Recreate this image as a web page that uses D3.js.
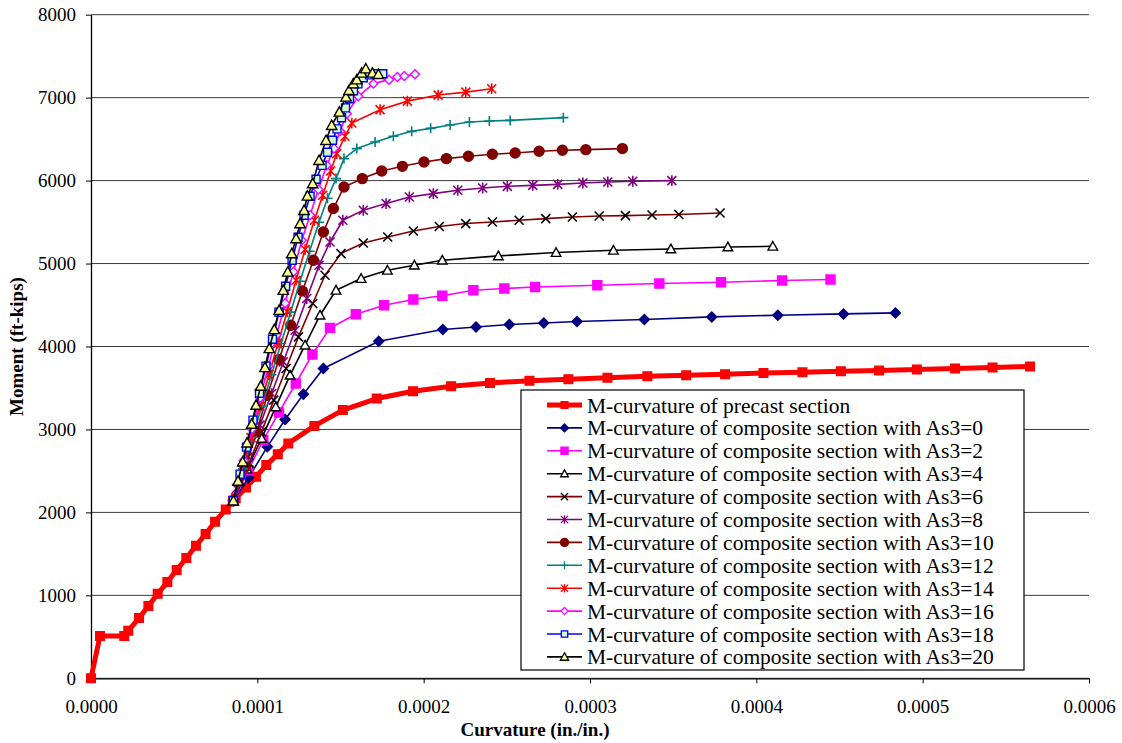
<!DOCTYPE html>
<html>
<head>
<meta charset="utf-8">
<script src="https://cdn.jsdelivr.net/npm/d3@7"></script>
<style>
  body { margin: 0; background: #fff; }
  svg text { font-family: "Liberation Serif", "Times New Roman", serif; }
</style>
</head>
<body>
<div id="chart"></div>
<script>
// [curvature (in./in.), moment (ft-kips)]
const precast = [[0,0],[0.0000054,510],[0.0000200,510],[0.0000224,573],[0.0000289,727],[0.0000345,871],
  [0.0000401,1019],[0.0000459,1160],[0.0000515,1305],[0.0000573,1449],[0.0000631,1599],[0.0000689,1739],
  [0.0000746,1887],[0.0000810,2036],[0.0000870,2170],[0.0000932,2300],[0.0000992,2429],[0.0001054,2570],
  [0.0001123,2702],[0.0001186,2831],[0.0001343,3043],[0.0001514,3233],[0.0001718,3373],[0.0001936,3461],
  [0.0002165,3522],[0.0002399,3561],[0.0002636,3586],[0.0002870,3606],[0.0003105,3622],[0.0003345,3642],
  [0.0003578,3654],[0.0003812,3666],[0.0004043,3682],[0.0004277,3690],[0.0004508,3702],[0.0004738,3711],
  [0.0004965,3723],[0.0005195,3735],[0.0005420,3747],[0.0005646,3759]];

const as3_0 = [[0.0000856,2140],[0.0000946,2414],[0.0001060,2790],[0.0001167,3120],[0.0001277,3425],
  [0.0001397,3735],[0.0001730,4064],[0.0002115,4205],[0.0002315,4236],[0.0002515,4265],[0.0002722,4284],
  [0.0002922,4301],[0.0003327,4325],[0.0003732,4357],[0.0004129,4377],[0.0004524,4393],[0.0004836,4405]];

const as3_2 = [[0.0000856,2140],[0.0000946,2510],[0.0001036,2871],[0.0001130,3205],[0.0001231,3554],
  [0.0001331,3904],[0.0001437,4224],[0.0001592,4389],[0.0001762,4498],[0.0001938,4566],[0.0002112,4612],
  [0.0002299,4678],[0.0002485,4699],[0.0002670,4718],[0.0003044,4739],[0.0003417,4759],[0.0003788,4775],
  [0.0004155,4795],[0.0004446,4807]];

const as3_4 = [[0.0000856,2140],[0.0000938,2522],[0.0001026,2892],[0.0001111,3272],[0.0001197,3654],
  [0.0001287,4016],[0.0001377,4377],[0.0001473,4678],[0.0001624,4819],[0.0001782,4919],[0.0001944,4980],
  [0.0002112,5040],[0.0002449,5092],[0.0002796,5133],[0.0003141,5160],[0.0003486,5176],[0.0003829,5200],
  [0.0004099,5208]];

const as3_6 = [[0.0000856,2140],[0.0000950,2594],[0.0001025,2971],[0.0001099,3353],[0.0001173,3735],
  [0.0001247,4116],[0.0001333,4518],[0.0001407,4859],[0.0001503,5120],[0.0001637,5248],[0.0001784,5320],
  [0.0001938,5393],[0.0002094,5446],[0.0002253,5482],[0.0002413,5501],[0.0002574,5522],[0.0002734,5542],
  [0.0002894,5561],[0.0003055,5573],[0.0003213,5578],[0.0003373,5586],[0.0003534,5592],[0.0003782,5610]];

const as3_8 = [[0.0000856,2140],[0.0000875,2288],[0.0000945,2670],[0.0001016,3052],[0.0001086,3433],
  [0.0001156,3814],[0.0001227,4196],[0.0001297,4578],[0.0001371,4980],[0.0001437,5260],[0.0001514,5522],
  [0.0001637,5642],[0.0001774,5723],[0.0001914,5802],[0.0002058,5843],[0.0002205,5883],[0.0002355,5911],
  [0.0002503,5931],[0.0002656,5943],[0.0002806,5955],[0.0002957,5971],[0.0003107,5983],[0.0003257,5992],
  [0.0003492,6000]];

const as3_10 = [[0.0000856,2140],[0.0000929,2552],[0.0000996,2971],[0.0001060,3413],[0.0001130,3843],
  [0.0001201,4257],[0.0001271,4670],[0.0001337,5040],[0.0001397,5381],[0.0001457,5663],[0.0001521,5923],
  [0.0001631,6024],[0.0001748,6116],[0.0001872,6172],[0.0002002,6224],[0.0002137,6265],[0.0002269,6293],
  [0.0002413,6317],[0.0002550,6333],[0.0002694,6353],[0.0002834,6365],[0.0002975,6373],[0.0003195,6386]];

const as3_12 = [[0.0000856,2140],[0.0000914,2525],[0.0000971,2904],[0.0001028,3281],[0.0001085,3659],
  [0.0001143,4037],[0.0001200,4414],[0.0001257,4787],[0.0001314,5148],[0.0001371,5498],[0.0001422,5787],
  [0.0001473,6024],[0.0001521,6265],[0.0001598,6386],[0.0001708,6465],[0.0001818,6534],[0.0001928,6594],
  [0.0002042,6630],[0.0002159,6670],[0.0002275,6706],[0.0002395,6718],[0.0002520,6726],[0.0002840,6759]];

const as3_14 = [[0.0000856,2140],[0.0000908,2522],[0.0000962,2901],[0.0001016,3281],[0.0001070,3660],
  [0.0001124,4040],[0.0001179,4419],[0.0001233,4799],[0.0001287,5169],[0.0001343,5522],[0.0001393,5823],
  [0.0001441,6116],[0.0001477,6325],[0.0001527,6534],[0.0001568,6694],[0.0001738,6855],[0.0001902,6958],
  [0.0002087,7031],[0.0002253,7067],[0.0002409,7108]];

const as3_16 = [[0.0000856,2140],[0.0000918,2624],[0.0000968,3004],[0.0001017,3383],[0.0001067,3763],
  [0.0001117,4142],[0.0001167,4522],[0.0001217,4901],[0.0001267,5281],[0.0001317,5582],[0.0001367,5892],
  [0.0001417,6184],[0.0001461,6386],[0.0001497,6594],[0.0001538,6807],[0.0001607,7016],[0.0001698,7169],
  [0.0001792,7217],[0.0001842,7248],[0.0001884,7260],[0.0001948,7281]];

const as3_18 = [[0.0000856,2140],[0.0000896,2462],[0.0000935,2787],[0.0000974,3112],[0.0001013,3437],
  [0.0001052,3763],[0.0001091,4088],[0.0001130,4413],[0.0001170,4726],[0.0001209,5040],[0.0001245,5317],
  [0.0001281,5582],[0.0001317,5811],[0.0001353,6016],[0.0001389,6184],[0.0001422,6341],[0.0001452,6486],
  [0.0001479,6624],[0.0001506,6757],[0.0001530,6877],[0.0001554,6986],[0.0001578,7082],[0.0001605,7166],
  [0.0001637,7239],[0.0001675,7275],[0.0001714,7289],[0.0001754,7289]];

const as3_20 = [[0.0000856,2140],[0.0000884,2377],[0.0000912,2610],[0.0000938,2839],[0.0000966,3064],
  [0.0000992,3293],[0.0001020,3522],[0.0001046,3747],[0.0001072,3976],[0.0001102,4205],[0.0001131,4437],
  [0.0001156,4678],[0.0001183,4899],[0.0001207,5120],[0.0001233,5301],[0.0001257,5482],[0.0001281,5642],
  [0.0001301,5815],[0.0001333,5964],[0.0001371,6245],[0.0001413,6486],[0.0001447,6666],[0.0001493,6827],
  [0.0001533,7008],[0.0001551,7088],[0.0001577,7168],[0.0001598,7216],[0.0001627,7297],[0.0001652,7349],
  [0.0001692,7297],[0.0001728,7281]];

const seriesNames = [
  "M-curvature of precast section",
  "M-curvature of composite section with As3=0",
  "M-curvature of composite section with As3=2",
  "M-curvature of composite section with As3=4",
  "M-curvature of composite section with As3=6",
  "M-curvature of composite section with As3=8",
  "M-curvature of composite section with As3=10",
  "M-curvature of composite section with As3=12",
  "M-curvature of composite section with As3=14",
  "M-curvature of composite section with As3=16",
  "M-curvature of composite section with As3=18",
  "M-curvature of composite section with As3=20"
];
const xTicks = [0, 0.0001, 0.0002, 0.0003, 0.0004, 0.0005, 0.0006];
const yTicks = [0, 1000, 2000, 3000, 4000, 5000, 6000, 7000, 8000];

// marker shapes (path generators at given radius)
const shapes = {
  square: r => `M${-r},${-r}H${r}V${r}H${-r}Z`,
  diamond: r => `M0,${-r}L${r},0L0,${r}L${-r},0Z`,
  triangle: r => `M0,${-r}L${r},${r * 0.8}L${-r},${r * 0.8}Z`,
  cross: r => `M${-r},${-r}L${r},${r}M${-r},${r}L${r},${-r}`,
  star: r => `M${-r},${-r}L${r},${r}M${-r},${r}L${r},${-r}M0,${-r * 1.2}L0,${r * 1.2}`,
  plus: r => `M${-r},0H${r}M0,${-r}V${r}`,
  circle: r => `M${-r},0A${r},${r} 0 1,0 ${r},0A${r},${r} 0 1,0 ${-r},0Z`
};

const series = [
  { data: precast, line: "#ff0000", width: 5,   shape: "square",   r: 4.3, fill: "#ff0000", stroke: "#ff0000" },
  { data: as3_0,   line: "#000080", width: 1.6, shape: "diamond",  r: 5,   fill: "#000080", stroke: "#000080" },
  { data: as3_2,   line: "#ff00ff", width: 1.6, shape: "square",   r: 4.5, fill: "#ff00ff", stroke: "#ff00ff" },
  { data: as3_4,   line: "#000000", width: 1.6, shape: "triangle", r: 4.8, fill: "#ffffff", stroke: "#000000" },
  { data: as3_6,   line: "#800000", width: 1.6, shape: "cross",    r: 4.5, fill: "none",    stroke: "#000000" },
  { data: as3_8,   line: "#800080", width: 1.6, shape: "star",     r: 4.5, fill: "none",    stroke: "#800080" },
  { data: as3_10,  line: "#800000", width: 1.6, shape: "circle",   r: 5,   fill: "#800000", stroke: "#800000" },
  { data: as3_12,  line: "#008080", width: 1.6, shape: "plus",     r: 5,   fill: "none",    stroke: "#008080" },
  { data: as3_14,  line: "#ff0000", width: 1.6, shape: "star",     r: 4.5, fill: "none",    stroke: "#ff0000" },
  { data: as3_16,  line: "#ff00ff", width: 1.6, shape: "diamond",  r: 4.5, fill: "#ccffff", stroke: "#ff00ff" },
  { data: as3_18,  line: "#0000ff", width: 1.6, shape: "square",   r: 4,   fill: "#ccffcc", stroke: "#0000ff" },
  { data: as3_20,  line: "#000000", width: 1.6, shape: "triangle", r: 5.2, fill: "#ffff99", stroke: "#000000" }
];

const W = 1122, H = 743;
const margin = { top: 14.7, right: 33, bottom: 64.7, left: 91 };

const svg = d3.select("#chart").append("svg")
  .attr("width", W)
  .attr("height", H);

const x = d3.scaleLinear().domain([0, 0.0006]).range([margin.left, W - margin.right]);
const y = d3.scaleLinear().domain([0, 8000]).range([H - margin.bottom, margin.top]);

// horizontal gridlines
svg.append("g")
  .selectAll("line")
  .data(yTicks)
  .enter().append("line")
  .attr("x1", x(0))
  .attr("x2", x(0.0006))
  .attr("y1", d => y(d))
  .attr("y2", d => y(d))
  .attr("stroke", "#3a3a3a")
  .attr("stroke-width", 1);

// axes
const yAxisG = svg.append("g")
  .attr("transform", `translate(${x(0)},0)`)
  .call(d3.axisLeft(y).tickValues(yTicks).tickSize(5).tickSizeOuter(0).tickPadding(10).tickFormat(d3.format("d")));

const xAxisG = svg.append("g")
  .attr("transform", `translate(0,${y(0)})`)
  .call(d3.axisBottom(x).tickValues(xTicks).tickSize(5).tickSizeOuter(0).tickPadding(16).tickFormat(d3.format(".4f")));

[yAxisG, xAxisG].forEach(g => {
  g.selectAll("text").attr("font-size", 19).attr("fill", "#000")
    .style("font-family", '"Liberation Serif", "Times New Roman", serif');
  g.selectAll("line").attr("stroke", "#000");
  g.select(".domain").attr("stroke", "#000").attr("stroke-width", 1.3);
});

// axis titles
svg.append("text")
  .attr("transform", `translate(23,${y(4000)}) rotate(-90)`)
  .attr("text-anchor", "middle")
  .attr("font-size", 19)
  .attr("font-weight", "bold")
  .text("Moment (ft-kips)");

svg.append("text")
  .attr("x", 535)
  .attr("y", 736)
  .attr("text-anchor", "middle")
  .attr("font-size", 19)
  .attr("font-weight", "bold")
  .text("Curvature (in./in.)");

// series
const line = d3.line().x(d => x(d[0])).y(d => y(d[1]));

series.forEach(s => {
  const g = svg.append("g");
  g.append("path")
    .attr("d", line(s.data))
    .attr("fill", "none")
    .attr("stroke", s.line)
    .attr("stroke-width", s.width)
    .attr("stroke-linejoin", "round");
  g.selectAll("path.mk")
    .data(s.data)
    .enter().append("path")
    .attr("class", "mk")
    .attr("transform", d => `translate(${x(d[0])},${y(d[1])})`)
    .attr("d", shapes[s.shape](s.r))
    .attr("fill", s.fill)
    .attr("stroke", s.stroke)
    .attr("stroke-width", s.shape === "cross" || s.shape === "star" || s.shape === "plus" ? 1.6 : 1.4);
});

// legend
const legend = svg.append("g").attr("transform", "translate(521,390)");
legend.append("rect")
  .attr("width", 503)
  .attr("height", 280)
  .attr("fill", "#fff")
  .attr("stroke", "#000")
  .attr("stroke-width", 1.2);

const rows = legend.selectAll("g.row")
  .data(series)
  .enter().append("g")
  .attr("class", "row")
  .attr("transform", (d, i) => `translate(0,${15 + i * 22.9})`);

rows.append("line")
  .attr("x1", 26)
  .attr("x2", 61)
  .attr("stroke", d => d.line)
  .attr("stroke-width", d => d.width);

rows.append("path")
  .attr("transform", "translate(43.5,0)")
  .attr("d", d => shapes[d.shape](d.r * 0.8))
  .attr("fill", d => d.fill)
  .attr("stroke", d => d.stroke)
  .attr("stroke-width", 1.3);

rows.append("text")
  .attr("x", 66)
  .attr("dy", "0.35em")
  .attr("font-size", 21.5)
  .text((d, i) => seriesNames[i]);
</script>
</body>
</html>
